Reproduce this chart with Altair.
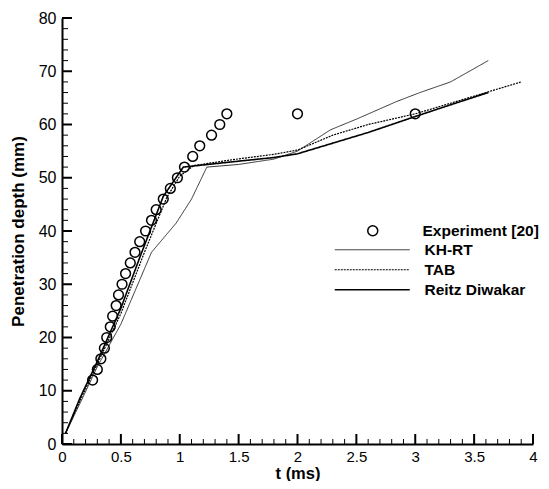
import altair as alt
import pandas as pd

# Experiment [20]
exp_t = [0.26, 0.30, 0.33, 0.36, 0.38, 0.41, 0.43, 0.46, 0.48, 0.51, 0.54, 0.58, 0.62,
         0.66, 0.71, 0.76, 0.80, 0.86, 0.92, 0.98, 1.04, 1.11, 1.17, 1.27, 1.34, 1.40,
         2.0, 3.0]
exp_d = [12, 14, 16, 18, 20, 22, 24, 26, 28, 30, 32, 34, 36,
         38, 40, 42, 44, 46, 48, 50, 52, 54, 56, 58, 60, 62,
         62, 62]

# KH-RT
khrt_t = [0.03, 0.15, 0.30, 0.50, 0.76, 0.97, 1.10, 1.23, 1.50, 1.80, 2.00, 2.28, 2.50, 2.84, 3.04, 3.30, 3.62]
khrt_d = [2.0, 7.5, 14.5, 22.5, 36.0, 41.5, 46.0, 52.0, 52.5, 53.5, 55.0, 59.0, 61.0, 64.3, 66.0, 68.0, 72.0]

# TAB
tab_t = [0.03, 0.15, 0.30, 0.50, 0.70, 0.89, 1.00, 1.12, 1.45, 1.80, 2.00, 2.30, 2.60, 3.00, 3.30, 3.60, 3.90]
tab_d = [2.0, 8.0, 15.0, 24.5, 36.0, 46.3, 50.3, 52.3, 53.4, 54.4, 55.2, 58.0, 60.0, 62.0, 64.0, 66.0, 68.0]

# Reitz Diwakar
rd_t = [0.03, 0.15, 0.30, 0.50, 0.66, 0.86, 1.03, 1.45, 1.80, 2.00, 2.30, 2.60, 3.00, 3.30, 3.62]
rd_d = [2.0, 8.5, 15.5, 25.5, 35.0, 46.5, 52.0, 53.0, 53.8, 54.5, 56.5, 58.5, 61.5, 63.7, 66.0]

models = ["KH-RT", "TAB", "Reitz Diwakar"]

y_major = [0, 10, 20, 30, 40, 50, 60, 70, 80]
y_minor = [v for v in range(0, 81, 2) if v % 10 != 0]
x_major = [0, 0.5, 1, 1.5, 2, 2.5, 3, 3.5, 4]
x_minor = [round(i * 0.1, 1) for i in range(41) if i % 5 != 0]

FONT = "Liberation Sans"

exp_df = pd.DataFrame({"t": exp_t, "d": exp_d, "src": "Experiment [20]"})
lines_df = pd.concat([
    pd.DataFrame({"t": khrt_t, "d": khrt_d, "model": "KH-RT"}),
    pd.DataFrame({"t": tab_t, "d": tab_d, "model": "TAB"}),
    pd.DataFrame({"t": rd_t, "d": rd_d, "model": "Reitz Diwakar"}),
])

xscale = alt.Scale(domain=[0, 4], nice=False, zero=False)
yscale = alt.Scale(domain=[0, 80], nice=False, zero=False)

xaxis = alt.Axis(values=x_major, ticks=False, grid=False, domainWidth=2, domainColor="black",
                 labelFont=FONT, labelFontSize=15, labelColor="black", labelPadding=5,
                 labelFlush=False, labelExpr="datum.value + ''",
                 title="t (ms)", titleFont=FONT, titleFontSize=16.5, titleFontWeight="bold",
                 titleColor="black", titleY=34, titleBaseline="alphabetic")
yaxis = alt.Axis(values=y_major, ticks=False, grid=False, domainWidth=2, domainColor="black",
                 labelFont=FONT, labelFontSize=16, labelColor="black", labelPadding=6,
                 labelFlush=False,
                 title="Penetration depth (mm)", titleFont=FONT, titleFontSize=17,
                 titleFontWeight="bold", titleColor="black", titleX=-44, titleY=213,
                 titleBaseline="middle", titleAlign="center", titleAngle=-90)

line_legend = alt.Legend(title=None, orient="none", legendX=302.5, legendY=224,
                         symbolType="M-7.5,0H7.5", symbolSize=100, symbolStrokeColor="black",
                         symbolFillColor="transparent",
                         labelFont=FONT, labelFontSize=15.5, labelFontWeight="bold",
                         labelColor="black", labelOffset=44.5, rowPadding=3, padding=0)

lines = alt.Chart(lines_df).mark_line(color="black").encode(
    x=alt.X("t:Q", scale=xscale, axis=xaxis),
    y=alt.Y("d:Q", scale=yscale, axis=yaxis),
    strokeDash=alt.StrokeDash("model:N", sort=models,
                              scale=alt.Scale(domain=models, range=[[1, 0], [2, 1], [1, 0]]),
                              legend=line_legend),
    strokeWidth=alt.StrokeWidth("model:N", sort=models,
                                scale=alt.Scale(domain=models, range=[0.8, 1.6, 2.0]),
                                legend=line_legend),
)

points = alt.Chart(exp_df).mark_point(shape="circle", filled=False, size=95,
                                      strokeWidth=1.5, color="black", opacity=1).encode(
    x=alt.X("t:Q", scale=xscale),
    y=alt.Y("d:Q", scale=yscale),
    shape=alt.Shape("src:N", scale=alt.Scale(domain=["Experiment [20]"], range=["circle"]),
                    legend=alt.Legend(title=None, orient="none", legendX=303, legendY=205,
                                      symbolSize=100, symbolStrokeColor="black",
                                      symbolFillColor="transparent", symbolStrokeWidth=1.5,
                                      labelFont=FONT, labelFontSize=15.5, labelFontWeight="bold",
                                      labelColor="black", labelOffset=42, padding=0)),
)

# inward ticks, anchored at the axis lines (t = 0 and d = 0)
ytick_major = pd.DataFrame({"v": y_major, "t": 0})
ytick_minor = pd.DataFrame({"v": y_minor, "t": 0})
xtick_major = pd.DataFrame({"v": x_major, "d": 0})
xtick_minor = pd.DataFrame({"v": x_minor, "d": 0})

ymaj = alt.Chart(ytick_major).mark_tick(orient="horizontal", size=10, thickness=2,
                                        color="black", xOffset=5, opacity=1).encode(
    y=alt.Y("v:Q", scale=yscale), x=alt.X("t:Q", scale=xscale))
ymin = alt.Chart(ytick_minor).mark_tick(orient="horizontal", size=6, thickness=1,
                                        color="black", xOffset=3, opacity=1).encode(
    y=alt.Y("v:Q", scale=yscale), x=alt.X("t:Q", scale=xscale))
xmaj = alt.Chart(xtick_major).mark_tick(orient="vertical", size=10, thickness=2,
                                        color="black", yOffset=-5, opacity=1).encode(
    x=alt.X("v:Q", scale=xscale), y=alt.Y("d:Q", scale=yscale))
xmin = alt.Chart(xtick_minor).mark_tick(orient="vertical", size=5, thickness=1,
                                        color="black", yOffset=-2.5, opacity=1).encode(
    x=alt.X("v:Q", scale=xscale), y=alt.Y("d:Q", scale=yscale))

chart = alt.layer(lines, points, ymaj, ymin, xmaj, xmin).properties(
    width=471, height=426,
    autosize=alt.AutoSizeParams(type="none"),
    padding={"left": 54, "top": 10, "right": 8, "bottom": 37},
    background="white",
).configure_view(stroke=None).resolve_legend(shape="independent", strokeDash="shared")

chart.save("out.html", embed_options={"renderer": "svg", "actions": False})
